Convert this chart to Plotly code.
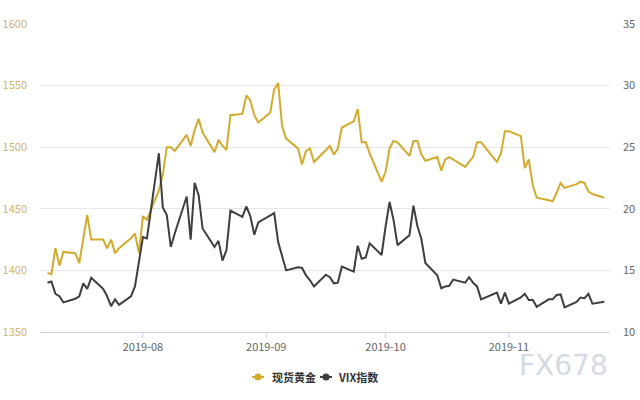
import pandas as pd
import plotly.graph_objects as go

dates = pd.bdate_range("2019-07-08", "2019-11-25")

gold = [
    # Jul 8 - Jul 31
    1398, 1397, 1418, 1404, 1415, 1414, 1406, 1426, 1445, 1425,
    1425, 1418, 1425, 1414, 1418, 1426, 1430, 1414,
    # Aug
    1444, 1441, 1465, 1478, 1500, 1500, 1497, 1510, 1501, 1514, 1523, 1512,
    1496, 1506, 1501, 1498, 1526, 1527, 1542, 1538, 1526, 1520,
    # Sep
    1528, 1547, 1552, 1517, 1507, 1499, 1486, 1497, 1499, 1488,
    1498, 1501, 1494, 1499, 1516, 1521, 1531, 1504, 1504, 1495, 1472,
    # Oct
    1480, 1499, 1505, 1504, 1493, 1505, 1505, 1494, 1489, 1492, 1481, 1490,
    1492, 1490, 1484, 1488, 1492, 1504, 1504, 1492, 1488, 1495, 1513,
    # Nov
    1513, 1509, 1483, 1490, 1469, 1459, 1457, 1456, 1463, 1471, 1467,
    1470, 1472, 1471, 1464, 1462, 1459,
]

vix = [
    # Jul 8 - Jul 31
    14.0, 14.1, 13.1, 12.9, 12.4, 12.7, 12.9, 13.95, 13.5, 14.4,
    13.5, 12.9, 12.1, 12.65, 12.2, 12.9, 13.7, 15.8,
    # Aug
    17.7, 17.6, 24.5, 20.1, 19.5, 16.9, 18.0, 21.0, 17.5, 22.1, 21.1, 18.4,
    16.9, 17.4, 15.8, 16.65, 19.85, 19.35, 20.2, 19.4, 17.9, 18.9,
    # Sep
    None, 19.65, 17.3, 16.2, 15.0, 15.25, 15.2, 14.6, 14.2, 13.7,
    14.65, 14.45, 13.95, 14.0, 15.3, 14.9, 17.0, 15.95, 16.05, 17.2, 16.25,
    # Oct
    18.55, 20.55, 19.1, 17.05, 17.85, 20.25, 18.6, 17.55, 15.6, 14.6, 13.55, 13.7,
    13.75, 14.25, 14.0, 14.45, 14.0, 13.7, 12.65, 13.1, 13.2, 12.3, 13.2,
    # Nov
    12.3, 12.8, 13.1, 12.6, 12.6, 12.05, 12.65, 12.65, 13.0, 13.05, 12.0,
    12.45, 12.8, 12.75, 13.1, 12.3, 12.45,
]

series_names = ["现货黄金", "VIX指数"]
gold_color = "#d5aa2c"
vix_color = "#3e3e3e"
font_family = "Noto Sans CJK SC, Open Sans, sans-serif"

fig = go.Figure()
fig.add_trace(go.Scatter(x=dates, y=gold, mode="lines", name=series_names[0],
                         line=dict(color=gold_color, width=2), showlegend=False,
                         connectgaps=True))
fig.add_trace(go.Scatter(x=dates, y=vix, mode="lines", name=series_names[1], yaxis="y2",
                         line=dict(color=vix_color, width=2), showlegend=False,
                         connectgaps=True))

# custom legend (icon: short line with dot, then bold label)
legend_items = [
    (series_names[0], gold_color, 0.3719, 0.3930, 0.3825, 0.4035),
    (series_names[1], vix_color, 0.4912, 0.5123, 0.5018, 0.5193),
]
ly = -0.146
shapes = []
annotations = []
for name, col, x0, x1, xc, xt in legend_items:
    shapes.append(dict(type="line", xref="paper", yref="paper", x0=x0, x1=x1, y0=ly, y1=ly,
                       line=dict(color=col, width=2)))
    shapes.append(dict(type="circle", xref="paper", yref="paper", xsizemode="pixel",
                       ysizemode="pixel", xanchor=xc, yanchor=ly, x0=-3.5, x1=3.5,
                       y0=-3.5, y1=3.5, fillcolor=col, line=dict(color=col, width=0)))
    annotations.append(dict(text="<b>%s</b>" % name, xref="paper", yref="paper", x=xt, y=ly,
                            xanchor="left", yanchor="middle", showarrow=False,
                            font=dict(size=11, color="#333", family=font_family)))

annotations.append(dict(
    text="FX678", xref="paper", yref="paper", x=0.918, y=-0.108,
    xanchor="center", yanchor="middle", showarrow=False,
    font=dict(size=28, color="#d3dae3", family="DejaVu Sans"),
))

fig.update_layout(
    width=640, height=400,
    margin=dict(l=40, r=30, t=24, b=68),
    paper_bgcolor="white", plot_bgcolor="white",
    font=dict(family=font_family, size=11, color="#666"),
    showlegend=False,
    xaxis=dict(
        type="date",
        range=["2019-07-06 03:00", "2019-11-26 10:00"],
        tickformat="%Y-%m", dtick="M1", tick0="2019-08-01",
        showgrid=False, zeroline=False,
        showline=True, linecolor="#ccd6eb", linewidth=1,
        ticks="outside", ticklen=5, tickcolor="#ccd6eb",
        tickfont=dict(size=11, color="#666"),
        automargin=False,
    ),
    yaxis=dict(
        range=[1350, 1600], dtick=50,
        showgrid=True, gridcolor="#e6e6e6", gridwidth=1,
        zeroline=False, showline=False,
        tickfont=dict(size=11, color="#d4b26c"),
        ticklabelstandoff=12, automargin=False,
    ),
    yaxis2=dict(
        range=[10, 35], dtick=5, overlaying="y", side="right",
        showgrid=False, zeroline=False, showline=False,
        tickfont=dict(size=11, color="#666"),
        ticklabelstandoff=12, automargin=False,
    ),
    shapes=shapes,
    annotations=annotations,
)

fig.write_html("out.html")
